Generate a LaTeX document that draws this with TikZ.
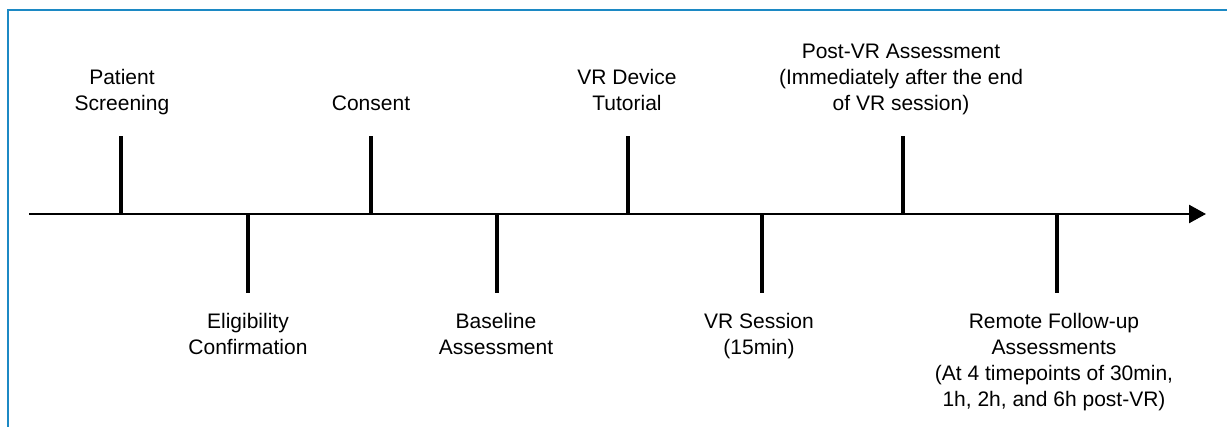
\documentclass[tikz,border=0pt]{standalone}
\usepackage{fontspec}
\setmainfont{Liberation Sans}
\usetikzlibrary{arrows.meta}
\definecolor{framebl}{RGB}{28,137,196}

\begin{document}
\begin{tikzpicture}[x=1pt,y=-1pt,
  lbl/.style={align=center,inner sep=0pt,font=\fontsize{21}{26}\selectfont},
  tick/.style={line width=4.5pt},
  axis/.style={line width=2.5pt,-{Triangle[length=17pt,width=18pt]}}]
\useasboundingbox (0,0) rectangle (1227,427);
\draw[framebl,line width=2pt] (8,440) |- (1240,10);

% time axis
\coordinate (start) at (29,214);
\coordinate (stop) at (1206,214);
\draw[axis] (start) -- (stop);

% above the axis
\coordinate (ps) at (121,214); \coordinate (pstop) at (121,136);
\node[lbl,anchor=base] (pslbl) at (122,111) {Patient\\Screening};
\draw[tick] (ps) -- (pstop);

\coordinate (cs) at (371,214); \coordinate (cstop) at (371,136);
\node[lbl,anchor=base] (cslbl) at (371,111) {Consent};
\draw[tick] (cs) -- (cstop);

\coordinate (tu) at (628,214); \coordinate (tutop) at (628,136);
\node[lbl,anchor=base] (tulbl) at (627,111) {VR Device\\Tutorial};
\draw[tick] (tu) -- (tutop);

\coordinate (pv) at (903,214); \coordinate (pvtop) at (903,136);
\node[lbl,anchor=base] (pvlbl) at (901,111) {Post-VR Assessment\\(Immediately after the end\\of VR session)};
\draw[tick] (pv) -- (pvtop);

% below the axis
\coordinate (el) at (248,214); \coordinate (elbot) at (248,293);
\node[lbl,anchor=north] (ellbl) at (248,313) {Eligibility\\Confirmation};
\draw[tick] (el) -- (elbot);

\coordinate (ba) at (497,214); \coordinate (babot) at (497,293);
\node[lbl,anchor=north] (balbl) at (496,313) {Baseline\\Assessment};
\draw[tick] (ba) -- (babot);

\coordinate (vs) at (762,214); \coordinate (vsbot) at (762,293);
\node[lbl,anchor=north] (vslbl) at (759,313) {VR Session\\(15min)};
\draw[tick] (vs) -- (vsbot);

\coordinate (fu) at (1057,214); \coordinate (fubot) at (1057,293);
\node[lbl,anchor=north] (fulbl) at (1054,313) {Remote Follow-up\\Assessments\\(At 4 timepoints of 30min,\\1h, 2h, and 6h post-VR)};
\draw[tick] (fu) -- (fubot);
\end{tikzpicture}
\end{document}
